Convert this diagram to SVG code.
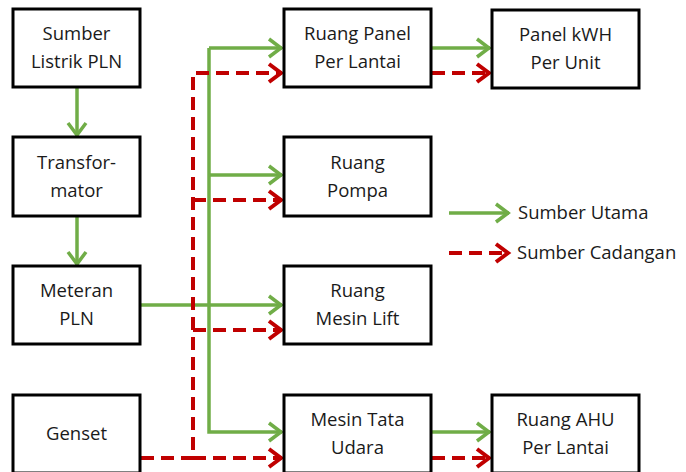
<svg xmlns="http://www.w3.org/2000/svg" width="686" height="472" viewBox="0 0 686 472">
<defs>
<style>
.box{fill:#fff;stroke:#000;stroke-width:3}
.t{font-family:"Open Sans","Noto Sans",sans-serif;font-size:18.5px;fill:#1a1a1a;text-anchor:middle}
.lt{font-family:"Open Sans","Noto Sans",sans-serif;font-size:18.5px;fill:#1a1a1a}
.g{fill:none;stroke:#70AD47;stroke-width:3.5}
.r{fill:none;stroke:#C00000;stroke-width:4;stroke-dasharray:13 7}
</style>
<marker id="ag" markerUnits="userSpaceOnUse" markerWidth="30" markerHeight="30" viewBox="-15 -15 30 30" refX="0" refY="0" orient="auto">
<path d="M-13,-9 L-1,0 L-13,9" fill="none" stroke="#70AD47" stroke-width="3.5"/>
</marker>
<marker id="ar" markerUnits="userSpaceOnUse" markerWidth="30" markerHeight="30" viewBox="-15 -15 30 30" refX="0" refY="0" orient="auto">
<path d="M-13,-9 L-1,0 L-13,9" fill="none" stroke="#C00000" stroke-width="4"/>
</marker>
</defs>
<rect width="686" height="472" fill="#fff"/>
<g id="connectors">
<line class="g" x1="77" y1="88" x2="77" y2="136" marker-end="url(#ag)"/>
<line class="g" x1="77" y1="217" x2="77" y2="265" marker-end="url(#ag)"/>
<line class="g" x1="209" y1="48" x2="282" y2="48" marker-end="url(#ag)"/>
<polyline class="g" points="209,48 209,432 282,432" marker-end="url(#ag)"/>
<line class="g" x1="209" y1="175" x2="282" y2="175" marker-end="url(#ag)"/>
<line class="g" x1="141" y1="305" x2="282" y2="305" marker-end="url(#ag)"/>
<polyline class="r" points="141,458 193,458 193,73 282,73" marker-end="url(#ar)"/>
<line class="r" x1="193" y1="458" x2="282" y2="458" marker-end="url(#ar)"/>
<line class="r" x1="193" y1="200" x2="282" y2="200" marker-end="url(#ar)"/>
<line class="r" x1="193" y1="330" x2="282" y2="330" marker-end="url(#ar)"/>
<line class="g" x1="432" y1="48" x2="490" y2="48" marker-end="url(#ag)"/>
<line class="r" x1="432" y1="73" x2="490" y2="73" marker-end="url(#ar)"/>
<line class="g" x1="432" y1="432" x2="490" y2="432" marker-end="url(#ag)"/>
<line class="r" x1="432" y1="458" x2="490" y2="458" marker-end="url(#ar)"/>
</g>
<g id="sumber"><rect class="box" x="13" y="9" width="127" height="78"/><text class="t" x="76.5" y="40">Sumber</text><text class="t" x="76.5" y="68">Listrik PLN</text></g>
<g id="trafo"><rect class="box" x="13" y="137" width="127" height="79"/><text class="t" x="76.5" y="168.5">Transfor-</text><text class="t" x="76.5" y="196.5">mator</text></g>
<g id="meteran"><rect class="box" x="13" y="266" width="127" height="78"/><text class="t" x="76.5" y="297">Meteran</text><text class="t" x="76.5" y="325">PLN</text></g>
<g id="genset"><rect class="box" x="13" y="395" width="127" height="78"/><text class="t" x="76.5" y="440">Genset</text></g>
<g id="panel"><rect class="box" x="284" y="9" width="147" height="78"/><text class="t" x="357.5" y="40">Ruang Panel</text><text class="t" x="357.5" y="68">Per Lantai</text></g>
<g id="pompa"><rect class="box" x="284" y="137" width="147" height="79"/><text class="t" x="357.5" y="168.5">Ruang</text><text class="t" x="357.5" y="196.5">Pompa</text></g>
<g id="lift"><rect class="box" x="284" y="266" width="147" height="78"/><text class="t" x="357.5" y="297">Ruang</text><text class="t" x="357.5" y="325">Mesin Lift</text></g>
<g id="tatausara"><rect class="box" x="284" y="395" width="147" height="78"/><text class="t" x="357.5" y="426">Mesin Tata</text><text class="t" x="357.5" y="454">Udara</text></g>
<g id="kwh"><rect class="box" x="492" y="10" width="147" height="78"/><text class="t" x="565.5" y="41">Panel kWH</text><text class="t" x="565.5" y="69">Per Unit</text></g>
<g id="ahu"><rect class="box" x="492" y="395" width="147" height="78"/><text class="t" x="565.5" y="426">Ruang AHU</text><text class="t" x="565.5" y="454">Per Lantai</text></g>
<g id="legend">
<line class="g" x1="449" y1="213" x2="509" y2="213" marker-end="url(#ag)"/>
<line class="r" x1="449" y1="253" x2="509" y2="253" marker-end="url(#ar)"/>
<text class="lt" x="518" y="219">Sumber Utama</text>
<text class="lt" x="517" y="259">Sumber Cadangan</text>
</g>
</svg>
